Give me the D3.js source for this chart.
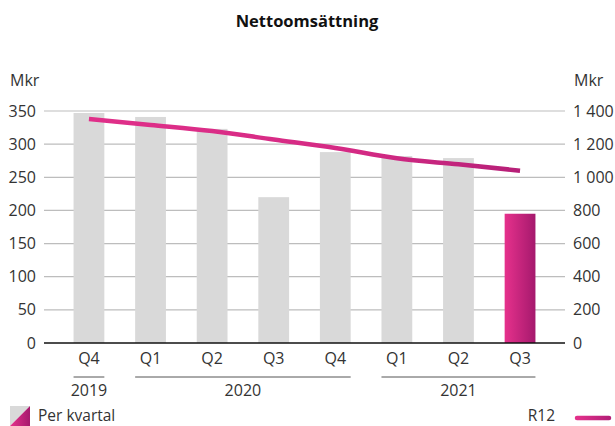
<!DOCTYPE html>
<html><head><meta charset="utf-8">
<script src="https://cdn.jsdelivr.net/npm/d3@7"></script>
<style>body{margin:0;background:#fff;} text{font-family:"Open Sans","Noto Sans",sans-serif;fill:#333;}</style>
</head><body><svg id="c" width="615" height="426"></svg>
<script>
const quarters = ["Q4","Q1","Q2","Q3","Q4","Q1","Q2","Q3"];
const years = ["2019","2020","2020","2020","2020","2021","2021","2021"];
const perKvartal = [347, 341, 323, 220, 288, 282, 279, 195];
const r12 = [1352, 1316, 1279, 1228, 1177, 1115, 1078, 1040];
const leftTicks = [0,50,100,150,200,250,300,350];
const rightTicks = [0,200,400,600,800,1000,1200,1400];
const fmt = d3.formatLocale({thousands:"\u00a0", grouping:[3], decimal:",", currency:["",""]}).format(",");

const svg = d3.select("#c");
const m = {l:44, r:565, t:111, b:343};
const idx = d3.range(quarters.length);
const x = d3.scaleBand().domain(idx).range([m.l, m.r]).paddingInner(0.5).paddingOuter(0.48);
const xl = d3.scalePoint().domain(idx).range([m.l, m.r]).padding(0.73);
const yL = d3.scaleLinear().domain([0,350]).range([m.b, m.t]);
const yR = d3.scaleLinear().domain([0,1400]).range([m.b, m.t]);

const defs = svg.append("defs");
const g1 = defs.append("linearGradient").attr("id","barG").attr("x1","0").attr("x2","1").attr("y1","0").attr("y2","0");
g1.append("stop").attr("offset","0").attr("stop-color","#e6318c");
g1.append("stop").attr("offset","1").attr("stop-color","#a5196d");
const g2 = defs.append("linearGradient").attr("id","lineG").attr("gradientUnits","userSpaceOnUse")
  .attr("x1", m.l).attr("x2", m.r).attr("y1",0).attr("y2",0);
g2.append("stop").attr("offset","0").attr("stop-color","#e2308a");
g2.append("stop").attr("offset","0.6").attr("stop-color","#d42a84");
g2.append("stop").attr("offset","1").attr("stop-color","#ae1d74");
const g3 = defs.append("linearGradient").attr("id","legG").attr("x1","0").attr("x2","1").attr("y1","0").attr("y2","0");
g3.append("stop").attr("offset","0").attr("stop-color","#e6318c");
g3.append("stop").attr("offset","1").attr("stop-color","#a5196d");
const g4 = defs.append("linearGradient").attr("id","legL").attr("gradientUnits","userSpaceOnUse")
  .attr("x1",577).attr("x2",609).attr("y1",0).attr("y2",0);
g4.append("stop").attr("offset","0").attr("stop-color","#e2308a");
g4.append("stop").attr("offset","1").attr("stop-color","#b51f78");

// title
svg.append("text").attr("x",307).attr("y",27).attr("text-anchor","middle")
  .style("font-weight","700").style("font-size","16.5px").style("fill","#111").text("Nettoomsättning");

// units
svg.append("text").attr("x",10).attr("y",86).style("font-size","16px").text("Mkr");
svg.append("text").attr("x",574).attr("y",86).style("font-size","16px").text("Mkr");

// grid
svg.append("g").selectAll("line").data(leftTicks.filter(d=>d>0)).join("line")
  .attr("x1",m.l).attr("x2",m.r).attr("y1",d=>yL(d)).attr("y2",d=>yL(d))
  .attr("stroke","#bdbdbd").attr("stroke-width",1.2);

// left axis
const ax = svg.append("g").attr("transform",`translate(${m.l},0)`)
  .call(d3.axisLeft(yL).tickValues(leftTicks).tickSize(0).tickPadding(8));
ax.select(".domain").remove();
ax.selectAll("text").style("font-size","16px").style("fill","#333").style("font-family",'"Open Sans","Noto Sans",sans-serif');
const axr = svg.append("g").attr("transform",`translate(${m.r},0)`)
  .call(d3.axisRight(yR).tickValues(rightTicks).tickFormat(fmt).tickSize(0).tickPadding(8));
axr.select(".domain").remove();
axr.selectAll("text").style("font-size","16px").style("fill","#333").style("font-family",'"Open Sans","Noto Sans",sans-serif');

// bars
svg.append("g").selectAll("rect").data(perKvartal).join("rect")
  .attr("x",(d,i)=>x(i)).attr("width",x.bandwidth())
  .attr("y",d=>yL(d)).attr("height",d=>yL(0)-yL(d))
  .attr("fill",(d,i)=> i===perKvartal.length-1 ? "url(#barG)" : "#d9d9d9");

// baseline
svg.append("line").attr("x1",m.l).attr("x2",m.r).attr("y1",m.b).attr("y2",m.b)
  .attr("stroke","#111").attr("stroke-width",1.6);

// line
const line = d3.line().x((d,i)=>xl(i)).y(d=>yR(d)).curve(d3.curveMonotoneX);
svg.append("path").datum(r12).attr("d",line).attr("fill","none")
  .attr("stroke","url(#lineG)").attr("stroke-width",4.5);

// x labels
svg.append("g").selectAll("text").data(quarters).join("text")
  .attr("x",(d,i)=>x(i)+x.bandwidth()/2).attr("y",364).attr("text-anchor","middle")
  .style("font-size","16px").text(d=>d);

// year groups
const groups = d3.groups(idx, i=>years[i]).map(([yr, is])=>({yr, a:d3.min(is), b:d3.max(is)}));
const gg = svg.append("g").selectAll("g").data(groups).join("g");
gg.append("line").attr("x1",d=>x(d.a)).attr("x2",d=>x(d.b)+x.bandwidth())
  .attr("y1",377).attr("y2",377).attr("stroke","#555").attr("stroke-width",1);
gg.append("text").attr("x",d=>(x(d.a)+x(d.b)+x.bandwidth())/2).attr("y",396)
  .attr("text-anchor","middle").style("font-size","16px").text(d=>d.yr);

// legend
svg.append("path").attr("d","M10,426 L10,406 L30,406 Z").attr("fill","#d9d9d9");
svg.append("path").attr("d","M10,426 L30,406 L30,426 Z").attr("fill","url(#legG)");
svg.append("text").attr("x",38).attr("y",421).style("font-size","15.5px").text("Per kvartal");
svg.append("text").attr("x",555).attr("y",421).attr("text-anchor","end").style("font-size","15.5px").text("R12");
svg.append("line").attr("x1",577).attr("x2",609).attr("y1",418).attr("y2",418)
  .attr("stroke","url(#legL)").attr("stroke-width",4.5).attr("stroke-linecap","round");
</script></body></html>
